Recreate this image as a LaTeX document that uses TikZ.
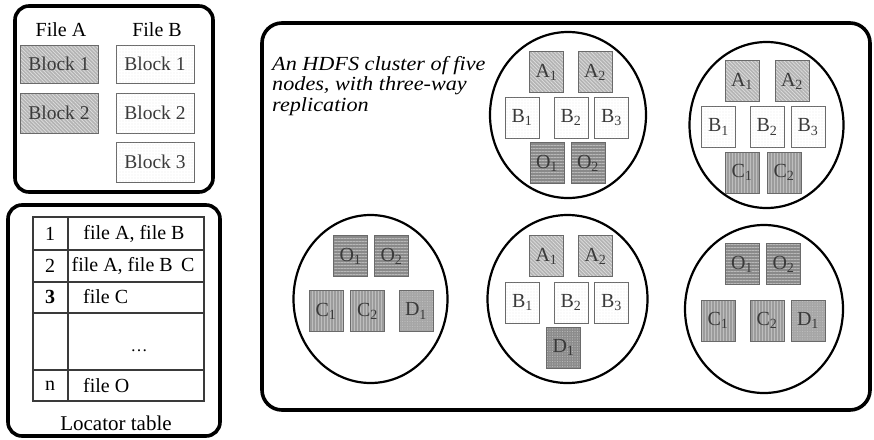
\documentclass[tikz,border=0pt]{standalone}
\usepackage{fontspec}
\setmainfont{Liberation Serif}
\newfontfamily\capfont[FakeStretch=1.11]{Liberation Serif}
\usetikzlibrary{shapes.geometric,patterns.meta}
\definecolor{edgegray}{HTML}{6A6A6A}
\definecolor{txtgray}{HTML}{3A3A3A}
\definecolor{afill}{HTML}{B4B4B4}
\definecolor{aline}{HTML}{DEDEDE}
\definecolor{bdot}{HTML}{C4C4C4}
\definecolor{ofill}{HTML}{8A8A8A}
\definecolor{oline}{HTML}{B8B8B8}
\definecolor{cfill}{HTML}{9C9C9C}
\definecolor{cline}{HTML}{BEBEBE}
\definecolor{dfill}{HTML}{A6A6A6}
\definecolor{ddark}{HTML}{8C8C8C}
\newcommand{\blab}[2]{#1\textsubscript{#2}}
\begin{document}
\begin{tikzpicture}[x=1pt,y=-1pt,
  frame/.style={draw=black,line width=3.6pt,rounded corners=14pt},
  host/.style={ellipse,draw=black,line width=2.2pt,inner sep=0pt},
  blockbase/.style={draw=edgegray,line width=0.9pt,inner sep=0pt,
    text=txtgray,font=\fontsize{20}{22}\selectfont},
  hblk/.style={blockbase,minimum width=34pt,minimum height=41pt},
  fblk/.style={blockbase,minimum width=78pt,minimum height=38pt,
    font=\fontsize{19.5}{22}\selectfont},
  ablk/.style={preaction={fill=afill},
    pattern={Lines[angle=-45,distance=2.6pt,line width=0.7pt]},pattern color=aline},
  bblk/.style={fill=white,postaction={pattern={Dots[radius=0.45pt,distance=3pt]},pattern color=bdot}},
  oblk/.style={preaction={fill=ofill},
    pattern={Lines[angle=0,distance=3pt,line width=0.8pt]},pattern color=oline},
  cblk/.style={preaction={fill=cfill},
    pattern={Lines[angle=90,distance=3pt,line width=0.8pt]},pattern color=cline},
  dblk/.style={preaction={fill=dfill},
    pattern={Dots[radius=0.6pt,distance=2.5pt]},pattern color=cline},
  dblkdark/.style={preaction={fill=ddark},
    pattern={Dots[radius=0.6pt,distance=2.5pt]},pattern color=oline},
  lbl/.style={font=\fontsize{20}{22}\selectfont,text=black,inner sep=0pt},
  tbl/.style={font=\fontsize{20}{22}\selectfont,text=black,inner sep=0pt},
  grid/.style={draw=txtgray,line width=1.3pt}
]
\useasboundingbox (0,0) rectangle (874,439);

% ---- files and their blocks ----
\draw[frame] (15,6) rectangle (213,192);
\node[lbl] (fa) at (61,30) {File A};
\node[lbl] (fb) at (157,30) {File B};
\node[fblk,ablk] (fa1) at (59,64) {Block 1};
\node[fblk,ablk,minimum height=40pt] (fa2) at (59,113) {Block 2};
\node[fblk,bblk] (fb1) at (155,64) {Block 1};
\node[fblk,bblk,minimum height=40pt] (fb2) at (155,113) {Block 2};
\node[fblk,bblk,minimum height=40pt] (fb3) at (155,162) {Block 3};

% ---- locator table ----
\draw[frame] (8,205) rectangle (220,436);
\draw[grid] (33,217) rectangle (204,401);
\foreach \yy in {250,282,313,370} \draw[grid] (33,\yy) -- (204,\yy);
\draw[grid] (68,217) -- (68,401);
\node[tbl] (r1n) at (50,234) {1};
\node[tbl] (r1f) at (134,234) {file A, file B};
\node[tbl] (r2n) at (50,266) {2};
\node[tbl] (r2f) at (133,266) {file A, file B\, C};
\node[tbl] (r3n) at (50,297) {\textbf{3}};
\node[tbl,anchor=west] (r3f) at (83,297) {file C};
\node[tbl,font=\fontsize{17}{20}\selectfont] (r4f) at (139,351) {\dots};
\node[tbl] (r5n) at (50,386) {n};
\node[tbl,anchor=west] (r5f) at (83,386) {file O};
\node[lbl,font=\fontsize{21}{23}\selectfont] (loc) at (116,423) {Locator table};

% ---- the cluster ----
\draw[frame,rounded corners=20pt] (262,23) rectangle (870,410);
\node[lbl,anchor=north west,align=left,font=\capfont\itshape\fontsize{20}{20.5}\selectfont]
  (cap) at (272,56) {An HDFS cluster of five\\nodes, with three-way\\replication};

% host 1
\node[host,minimum width=156pt,minimum height=166pt] (h1) at (568,115) {};
\node[hblk,ablk] (h1a1) at (546.5,72) {\blab{A}{1}};
\node[hblk,ablk] (h1a2) at (595,72) {\blab{A}{2}};
\node[hblk,bblk] (h1b1) at (522,117.5) {\blab{B}{1}};
\node[hblk,bblk] (h1b2) at (571,117.5) {\blab{B}{2}};
\node[hblk,bblk] (h1b3) at (611.5,117.5) {\blab{B}{3}};
\node[hblk,oblk] (h1o1) at (547,163) {\blab{O}{1}};
\node[hblk,oblk] (h1o2) at (588,163) {\blab{O}{2}};

% host 2
\node[host,minimum width=154pt,minimum height=166pt] (h2) at (766.5,125) {};
\node[hblk,ablk] (h2a1) at (742,81) {\blab{A}{1}};
\node[hblk,ablk] (h2a2) at (792,81) {\blab{A}{2}};
\node[hblk,bblk] (h2b1) at (718.5,127) {\blab{B}{1}};
\node[hblk,bblk] (h2b2) at (767,127) {\blab{B}{2}};
\node[hblk,bblk] (h2b3) at (808,127) {\blab{B}{3}};
\node[hblk,cblk] (h2c1) at (742,172.5) {\blab{C}{1}};
\node[hblk,cblk] (h2c2) at (784,172.5) {\blab{C}{2}};

% host 3
\node[host,minimum width=154pt,minimum height=168pt] (h3) at (370.5,299) {};
\node[hblk,oblk] (h3o1) at (350.5,256) {\blab{O}{1}};
\node[hblk,oblk] (h3o2) at (391.5,256) {\blab{O}{2}};
\node[hblk,cblk] (h3c1) at (326,311) {\blab{C}{1}};
\node[hblk,cblk] (h3c2) at (367.5,311) {\blab{C}{2}};
\node[hblk,dblk] (h3d1) at (416,311) {\blab{D}{1}};

% host 4
\node[host,minimum width=160pt,minimum height=168pt] (h4) at (567.5,299) {};
\node[hblk,ablk] (h4a1) at (546.5,256) {\blab{A}{1}};
\node[hblk,ablk] (h4a2) at (595.5,256) {\blab{A}{2}};
\node[hblk,bblk] (h4b1) at (522.5,302.5) {\blab{B}{1}};
\node[hblk,bblk] (h4b2) at (571,302.5) {\blab{B}{2}};
\node[hblk,bblk] (h4b3) at (611.5,302.5) {\blab{B}{3}};
\node[hblk,dblkdark] (h4d1) at (563.5,347.5) {\blab{D}{1}};

% host 5
\node[host,minimum width=158pt,minimum height=168pt] (h5) at (764,309) {};
\node[hblk,oblk] (h5o1) at (742,264) {\blab{O}{1}};
\node[hblk,oblk] (h5o2) at (783.5,264) {\blab{O}{2}};
\node[hblk,cblk] (h5c1) at (718,320.5) {\blab{C}{1}};
\node[hblk,cblk] (h5c2) at (767,320.5) {\blab{C}{2}};
\node[hblk,dblk] (h5d1) at (808,320.5) {\blab{D}{1}};
\end{tikzpicture}
\end{document}
